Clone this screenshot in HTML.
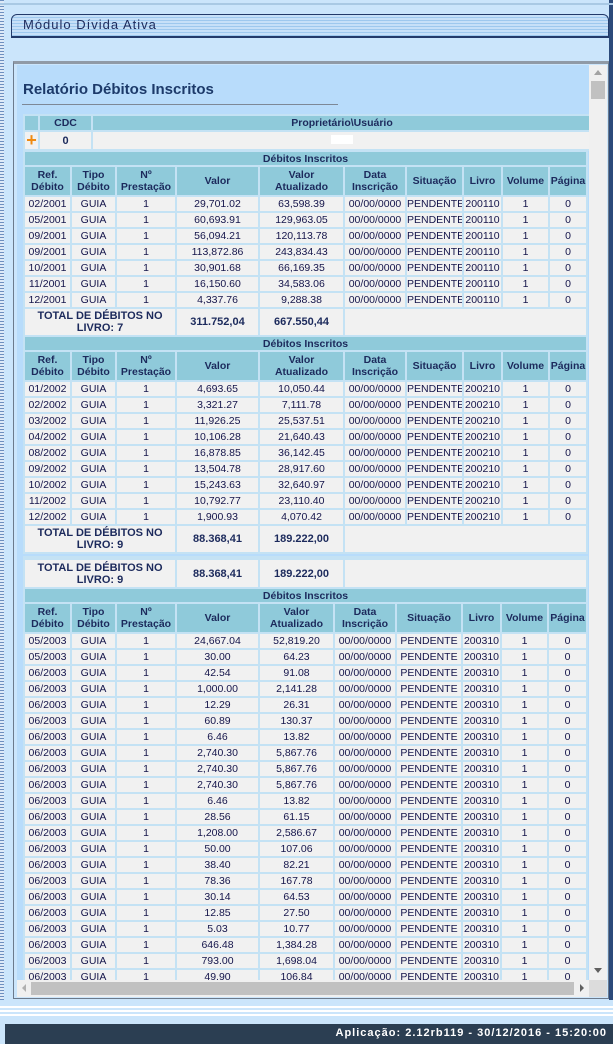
<!DOCTYPE html>
<html><head><meta charset="utf-8"><style>
*{margin:0;padding:0;box-sizing:border-box}
body{width:613px;height:1044px;background:#cbe5fb;position:relative;overflow:hidden;font-family:"Liberation Sans",Tahoma,sans-serif;color:#14144a}
.ab{position:absolute}
table{border-collapse:collapse;table-layout:fixed;position:absolute;left:0;width:565px;font-size:10.5px}
td{border:2px solid #c4e2f4;background:#f1f1f1;text-align:center;height:16px;white-space:nowrap;overflow:hidden;padding:0}
td.h{background:#8fcada;font-weight:bold;color:#1c2a5c}
td.t{font-weight:bold;color:#1c2a5c;font-size:11px;line-height:12px}
</style></head><body>
<div class="ab" style="left:0;top:0;width:4px;height:1000px;background:repeating-linear-gradient(#6d8fbf 0 1px,#dfeaf7 1px 3px)"></div>
<div class="ab" style="left:609px;top:0;width:4px;height:1000px;background:#2b4a7a"></div>
<div class="ab" style="left:0;top:3px;width:613px;height:2px;background:#a9c9e4"></div>
<div class="ab" style="left:11px;top:14px;width:598px;height:24px;border:1px solid #233a6a;border-bottom:2px solid #233a6a;border-radius:6px 6px 0 0;background:repeating-linear-gradient(#c7e0f8 0 2px,#9ec8ee 2px 3px)"></div>
<div class="ab" style="left:23px;top:17px;font-size:13px;letter-spacing:1px;color:#1c2a5c">Módulo Dívida Ativa</div>
<div class="ab" style="left:13px;top:61px;width:596px;height:938px;border:1px solid #6c7a8c;border-top:3px solid #909aa6;background:#cbe5fb"></div>
<div class="ab" style="left:17px;top:65px;width:572px;height:915px;background:#b8dcfb;overflow:hidden">
 <div class="ab" style="left:6px;top:16px;font-size:15px;font-weight:bold;color:#1c3a6a">Relatório Débitos Inscritos</div>
 <div class="ab" style="left:5px;top:39px;width:316px;height:1px;background:#7d8896"></div>
 <table style="top:49px;left:6px;width:570px"><colgroup><col style="width:15px"><col style="width:53px"><col></colgroup>
 <tr><td class="h" style="height:16px"></td><td class="h">CDC</td><td class="h">Proprietário\Usuário</td></tr>
 <tr><td style="height:19px;background:#f1f1f1"><span style="color:#f08a10;font-weight:bold;font-size:18px;line-height:14px">+</span></td><td class="t">0</td><td><span style="display:inline-block;width:22px;height:9px;background:#fff"></span></td></tr></table>
 <div class="ab" style="left:6px;top:84px;width:566px;height:2px;background:#c4e2f4"></div>

 <div class="ab" style="left:6px;top:85px;width:570px;height:420px">
 <table style="top:0"><colgroup><col style="width:47px"><col style="width:45px"><col style="width:60px"><col style="width:83px"><col style="width:85px"><col style="width:62px"><col style="width:57px"><col style="width:39px"><col style="width:47px"><col></colgroup>
 <tr><td class="h" colspan="10" style="height:15px">Débitos Inscritos</td></tr>
 <tr><td class="h" style="height:30px">Ref.<br>Débito</td><td class="h">Tipo<br>Débito</td><td class="h">Nº<br>Prestação</td><td class="h">Valor</td><td class="h">Valor<br>Atualizado</td><td class="h">Data<br>Inscrição</td><td class="h">Situação</td><td class="h">Livro</td><td class="h">Volume</td><td class="h">Página</td></tr>
 <tr><td>02/2001</td><td>GUIA</td><td>1</td><td>29,701.02</td><td>63,598.39</td><td>00/00/0000</td><td>PENDENTE</td><td>200110</td><td>1</td><td>0</td></tr>
 <tr><td>05/2001</td><td>GUIA</td><td>1</td><td>60,693.91</td><td>129,963.05</td><td>00/00/0000</td><td>PENDENTE</td><td>200110</td><td>1</td><td>0</td></tr>
 <tr><td>09/2001</td><td>GUIA</td><td>1</td><td>56,094.21</td><td>120,113.78</td><td>00/00/0000</td><td>PENDENTE</td><td>200110</td><td>1</td><td>0</td></tr>
 <tr><td>09/2001</td><td>GUIA</td><td>1</td><td>113,872.86</td><td>243,834.43</td><td>00/00/0000</td><td>PENDENTE</td><td>200110</td><td>1</td><td>0</td></tr>
 <tr><td>10/2001</td><td>GUIA</td><td>1</td><td>30,901.68</td><td>66,169.35</td><td>00/00/0000</td><td>PENDENTE</td><td>200110</td><td>1</td><td>0</td></tr>
 <tr><td>11/2001</td><td>GUIA</td><td>1</td><td>16,150.60</td><td>34,583.06</td><td>00/00/0000</td><td>PENDENTE</td><td>200110</td><td>1</td><td>0</td></tr>
 <tr><td>12/2001</td><td>GUIA</td><td>1</td><td>4,337.76</td><td>9,288.38</td><td>00/00/0000</td><td>PENDENTE</td><td>200110</td><td>1</td><td>0</td></tr>
 <tr><td class="t" colspan="3" style="height:28px">TOTAL DE DÉBITOS NO<br>LIVRO: 7</td><td class="t">311.752,04</td><td class="t">667.550,44</td><td colspan="5"></td></tr>
 <tr><td class="h" colspan="10" style="height:15px">Débitos Inscritos</td></tr>
 <tr><td class="h" style="height:30px">Ref.<br>Débito</td><td class="h">Tipo<br>Débito</td><td class="h">Nº<br>Prestação</td><td class="h">Valor</td><td class="h">Valor<br>Atualizado</td><td class="h">Data<br>Inscrição</td><td class="h">Situação</td><td class="h">Livro</td><td class="h">Volume</td><td class="h">Página</td></tr>
 <tr><td>01/2002</td><td>GUIA</td><td>1</td><td>4,693.65</td><td>10,050.44</td><td>00/00/0000</td><td>PENDENTE</td><td>200210</td><td>1</td><td>0</td></tr>
 <tr><td>02/2002</td><td>GUIA</td><td>1</td><td>3,321.27</td><td>7,111.78</td><td>00/00/0000</td><td>PENDENTE</td><td>200210</td><td>1</td><td>0</td></tr>
 <tr><td>03/2002</td><td>GUIA</td><td>1</td><td>11,926.25</td><td>25,537.51</td><td>00/00/0000</td><td>PENDENTE</td><td>200210</td><td>1</td><td>0</td></tr>
 <tr><td>04/2002</td><td>GUIA</td><td>1</td><td>10,106.28</td><td>21,640.43</td><td>00/00/0000</td><td>PENDENTE</td><td>200210</td><td>1</td><td>0</td></tr>
 <tr><td>08/2002</td><td>GUIA</td><td>1</td><td>16,878.85</td><td>36,142.45</td><td>00/00/0000</td><td>PENDENTE</td><td>200210</td><td>1</td><td>0</td></tr>
 <tr><td>09/2002</td><td>GUIA</td><td>1</td><td>13,504.78</td><td>28,917.60</td><td>00/00/0000</td><td>PENDENTE</td><td>200210</td><td>1</td><td>0</td></tr>
 <tr><td>10/2002</td><td>GUIA</td><td>1</td><td>15,243.63</td><td>32,640.97</td><td>00/00/0000</td><td>PENDENTE</td><td>200210</td><td>1</td><td>0</td></tr>
 <tr><td>11/2002</td><td>GUIA</td><td>1</td><td>10,792.77</td><td>23,110.40</td><td>00/00/0000</td><td>PENDENTE</td><td>200210</td><td>1</td><td>0</td></tr>
 <tr><td>12/2002</td><td>GUIA</td><td>1</td><td>1,900.93</td><td>4,070.42</td><td>00/00/0000</td><td>PENDENTE</td><td>200210</td><td>1</td><td>0</td></tr>
 <tr><td class="t" colspan="3" style="height:28px">TOTAL DE DÉBITOS NO<br>LIVRO: 9</td><td class="t">88.368,41</td><td class="t">189.222,00</td><td colspan="5"></td></tr>
 </table></div>

 <table style="top:491px;left:6px"><colgroup><col style="width:152px"><col style="width:83px"><col style="width:85px"><col></colgroup>
 <tr><td class="t" style="height:30px;border-top:4px solid #c4e2f4">TOTAL DE DÉBITOS NO<br>LIVRO: 9</td><td class="t" style="border-top:4px solid #c4e2f4">88.368,41</td><td class="t" style="border-top:4px solid #c4e2f4">189.222,00</td><td style="border-top:4px solid #c4e2f4"></td></tr></table>

 <table style="top:522px;left:6px"><colgroup><col style="width:47px"><col style="width:45px"><col style="width:60px"><col style="width:83px"><col style="width:75px"><col style="width:62px"><col style="width:66px"><col style="width:39px"><col style="width:47px"><col></colgroup>
 <tr><td class="h" colspan="10" style="height:15px">Débitos Inscritos</td></tr>
 <tr><td class="h" style="height:30px">Ref.<br>Débito</td><td class="h">Tipo<br>Débito</td><td class="h">Nº<br>Prestação</td><td class="h">Valor</td><td class="h">Valor<br>Atualizado</td><td class="h">Data<br>Inscrição</td><td class="h">Situação</td><td class="h">Livro</td><td class="h">Volume</td><td class="h">Página</td></tr>
 <tr><td>05/2003</td><td>GUIA</td><td>1</td><td>24,667.04</td><td>52,819.20</td><td>00/00/0000</td><td>PENDENTE</td><td>200310</td><td>1</td><td>0</td></tr>
 <tr><td>05/2003</td><td>GUIA</td><td>1</td><td>30.00</td><td>64.23</td><td>00/00/0000</td><td>PENDENTE</td><td>200310</td><td>1</td><td>0</td></tr>
 <tr><td>06/2003</td><td>GUIA</td><td>1</td><td>42.54</td><td>91.08</td><td>00/00/0000</td><td>PENDENTE</td><td>200310</td><td>1</td><td>0</td></tr>
 <tr><td>06/2003</td><td>GUIA</td><td>1</td><td>1,000.00</td><td>2,141.28</td><td>00/00/0000</td><td>PENDENTE</td><td>200310</td><td>1</td><td>0</td></tr>
 <tr><td>06/2003</td><td>GUIA</td><td>1</td><td>12.29</td><td>26.31</td><td>00/00/0000</td><td>PENDENTE</td><td>200310</td><td>1</td><td>0</td></tr>
 <tr><td>06/2003</td><td>GUIA</td><td>1</td><td>60.89</td><td>130.37</td><td>00/00/0000</td><td>PENDENTE</td><td>200310</td><td>1</td><td>0</td></tr>
 <tr><td>06/2003</td><td>GUIA</td><td>1</td><td>6.46</td><td>13.82</td><td>00/00/0000</td><td>PENDENTE</td><td>200310</td><td>1</td><td>0</td></tr>
 <tr><td>06/2003</td><td>GUIA</td><td>1</td><td>2,740.30</td><td>5,867.76</td><td>00/00/0000</td><td>PENDENTE</td><td>200310</td><td>1</td><td>0</td></tr>
 <tr><td>06/2003</td><td>GUIA</td><td>1</td><td>2,740.30</td><td>5,867.76</td><td>00/00/0000</td><td>PENDENTE</td><td>200310</td><td>1</td><td>0</td></tr>
 <tr><td>06/2003</td><td>GUIA</td><td>1</td><td>2,740.30</td><td>5,867.76</td><td>00/00/0000</td><td>PENDENTE</td><td>200310</td><td>1</td><td>0</td></tr>
 <tr><td>06/2003</td><td>GUIA</td><td>1</td><td>6.46</td><td>13.82</td><td>00/00/0000</td><td>PENDENTE</td><td>200310</td><td>1</td><td>0</td></tr>
 <tr><td>06/2003</td><td>GUIA</td><td>1</td><td>28.56</td><td>61.15</td><td>00/00/0000</td><td>PENDENTE</td><td>200310</td><td>1</td><td>0</td></tr>
 <tr><td>06/2003</td><td>GUIA</td><td>1</td><td>1,208.00</td><td>2,586.67</td><td>00/00/0000</td><td>PENDENTE</td><td>200310</td><td>1</td><td>0</td></tr>
 <tr><td>06/2003</td><td>GUIA</td><td>1</td><td>50.00</td><td>107.06</td><td>00/00/0000</td><td>PENDENTE</td><td>200310</td><td>1</td><td>0</td></tr>
 <tr><td>06/2003</td><td>GUIA</td><td>1</td><td>38.40</td><td>82.21</td><td>00/00/0000</td><td>PENDENTE</td><td>200310</td><td>1</td><td>0</td></tr>
 <tr><td>06/2003</td><td>GUIA</td><td>1</td><td>78.36</td><td>167.78</td><td>00/00/0000</td><td>PENDENTE</td><td>200310</td><td>1</td><td>0</td></tr>
 <tr><td>06/2003</td><td>GUIA</td><td>1</td><td>30.14</td><td>64.53</td><td>00/00/0000</td><td>PENDENTE</td><td>200310</td><td>1</td><td>0</td></tr>
 <tr><td>06/2003</td><td>GUIA</td><td>1</td><td>12.85</td><td>27.50</td><td>00/00/0000</td><td>PENDENTE</td><td>200310</td><td>1</td><td>0</td></tr>
 <tr><td>06/2003</td><td>GUIA</td><td>1</td><td>5.03</td><td>10.77</td><td>00/00/0000</td><td>PENDENTE</td><td>200310</td><td>1</td><td>0</td></tr>
 <tr><td>06/2003</td><td>GUIA</td><td>1</td><td>646.48</td><td>1,384.28</td><td>00/00/0000</td><td>PENDENTE</td><td>200310</td><td>1</td><td>0</td></tr>
 <tr><td>06/2003</td><td>GUIA</td><td>1</td><td>793.00</td><td>1,698.04</td><td>00/00/0000</td><td>PENDENTE</td><td>200310</td><td>1</td><td>0</td></tr>
 <tr><td>06/2003</td><td>GUIA</td><td>1</td><td>49.90</td><td>106.84</td><td>00/00/0000</td><td>PENDENTE</td><td>200310</td><td>1</td><td>0</td></tr>
 </table>
</div>
<div class="ab" style="left:589px;top:65px;width:18px;height:915px;background:#f0f0f0"></div>
<div class="ab" style="left:594px;top:70px;width:0;height:0;border:4px solid transparent;border-bottom:5px solid #a3a3a3;border-top:0"></div>
<div class="ab" style="left:591px;top:81px;width:14px;height:18px;background:#c1c1c1"></div>
<div class="ab" style="left:594px;top:968px;width:0;height:0;border:4px solid transparent;border-top:5px solid #606060;border-bottom:0"></div>
<div class="ab" style="left:17px;top:980px;width:572px;height:17px;background:#f0f0f0"></div>
<div class="ab" style="left:31px;top:982px;width:543px;height:13px;background:#c1c1c1"></div>
<div class="ab" style="left:22px;top:984px;width:0;height:0;border:4px solid transparent;border-right:4px solid #b0b0b0;border-left:0"></div>
<div class="ab" style="left:580px;top:984px;width:0;height:0;border:4px solid transparent;border-left:4px solid #606060;border-right:0"></div>
<div class="ab" style="left:589px;top:980px;width:18px;height:17px;background:#dcdcdc"></div>
<div class="ab" style="left:0;top:1004px;width:613px;height:14px;background:repeating-linear-gradient(#cbe5fb 0 2px,#ffffff 2px 4px)"></div>
<div class="ab" style="left:5px;top:1024px;width:608px;height:20px;background:#2b3e52;color:#fff;font-weight:bold;font-size:11px;letter-spacing:1px;text-align:right;padding-right:6px;line-height:18px">Aplicação: 2.12rb119 - 30/12/2016 - 15:20:00</div>
</body></html>
